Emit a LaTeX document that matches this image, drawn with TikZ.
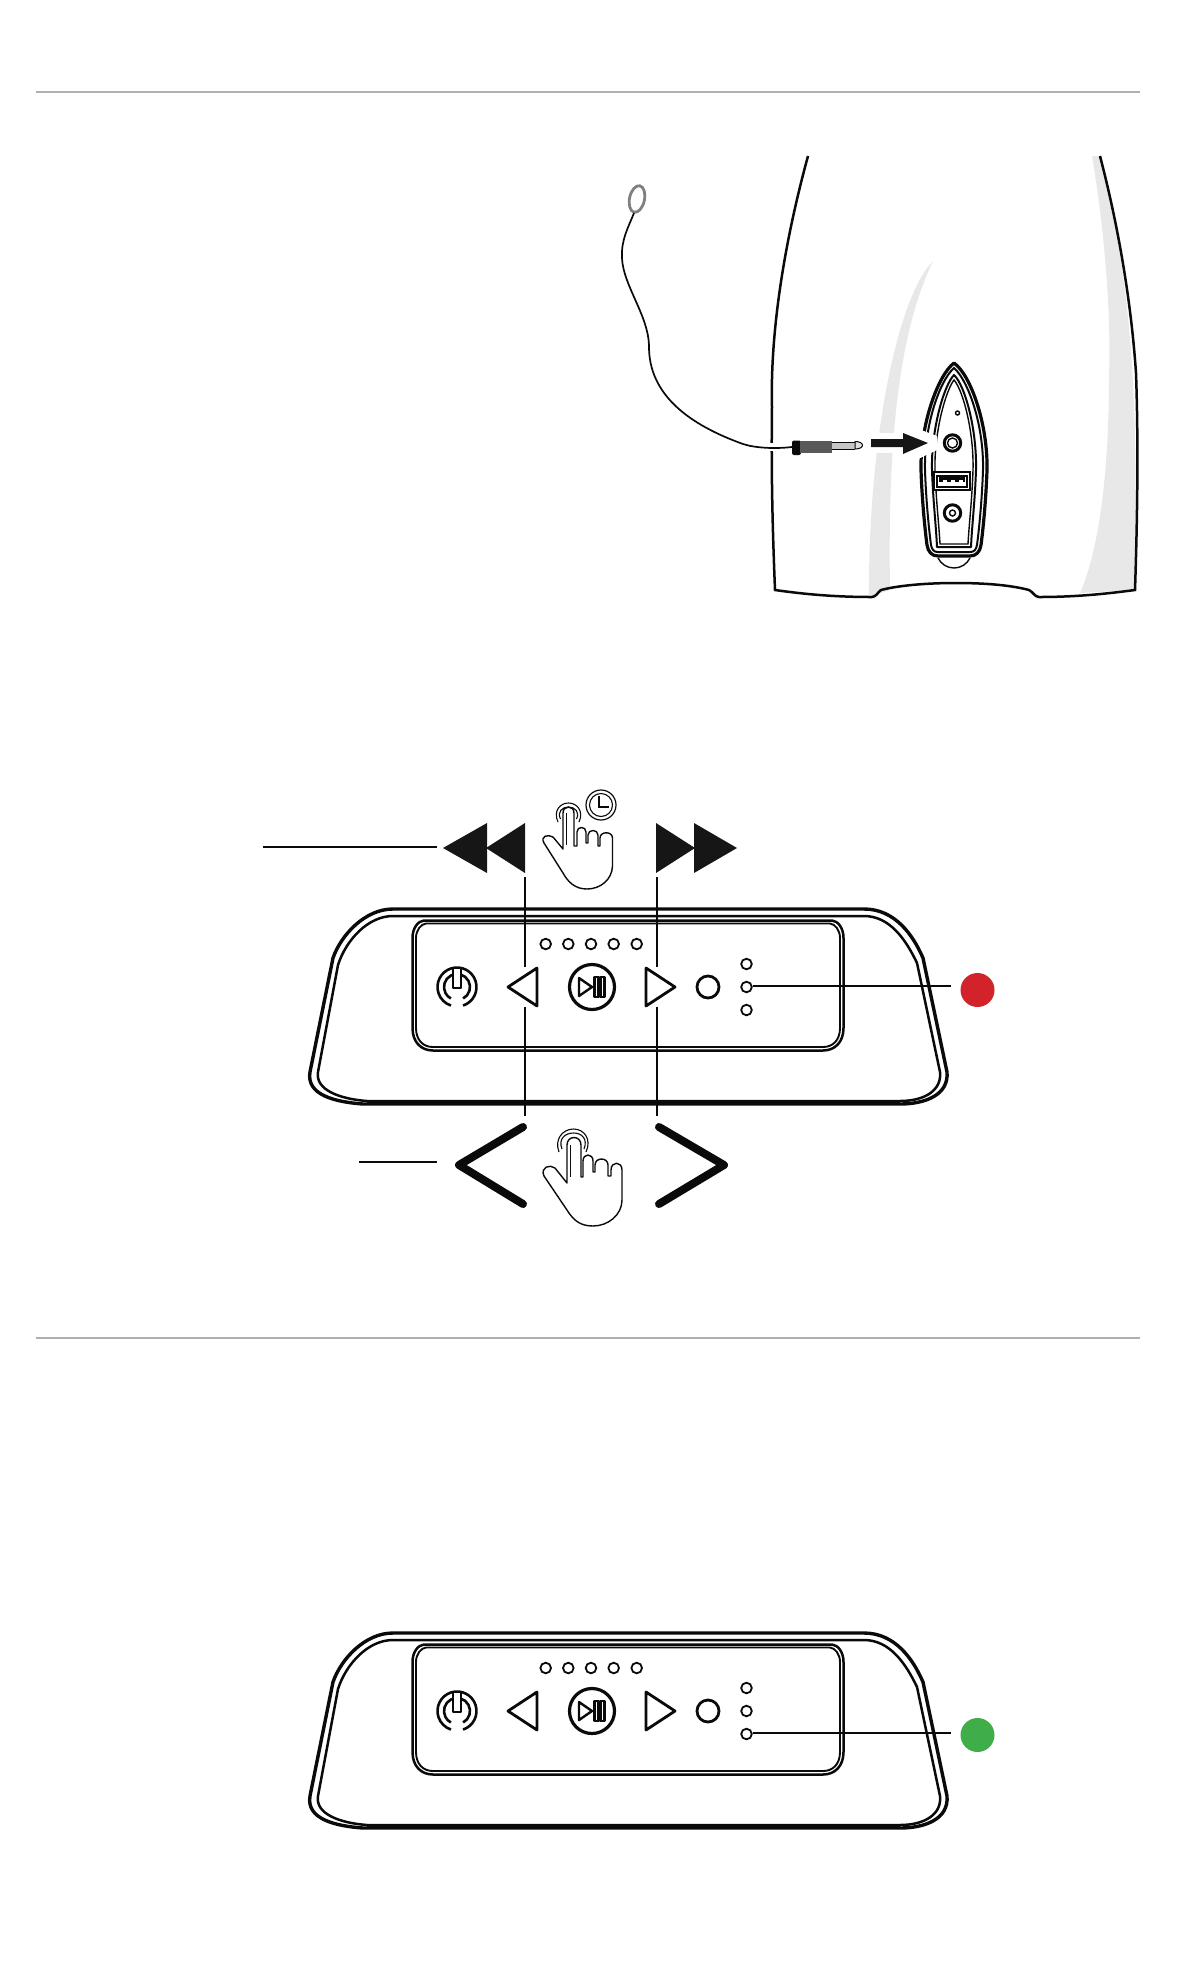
\documentclass[tikz,border=0pt]{standalone}
\usetikzlibrary{positioning}

\definecolor{rulegray}{HTML}{B0B0B0}
\definecolor{stripgray}{HTML}{E8E8E8}
\definecolor{ledred}{HTML}{D2232A}
\definecolor{ledgreen}{HTML}{3FAE49}
\definecolor{inkblack}{HTML}{0A0A0A}

\tikzset{
  sectionrule/.style={draw=rulegray, line width=1.6pt},
  outline/.style={draw=inkblack, line width=2.5pt},
  thinline/.style={draw=inkblack, line width=1.4pt},
  leader/.style={draw=inkblack, line width=2pt},
  led/.style={draw=inkblack, line width=1.8pt, fill=white},
  button/.style={draw=inkblack, line width=2.8pt, line join=round},
  solidmark/.style={fill=inkblack!90!gray},
  chevron/.style={draw=inkblack, line width=8pt, line cap=round, line join=round},
  statusdot/.style={circle, minimum size=34pt, inner sep=0pt},
  controlpanel/.pic={
    % Body
    \draw[draw=inkblack, line width=3.4pt, line join=round] (393,909) -- (864,909)
      .. controls (895,909) and (913,935) .. (923,958)
      -- (947,1072) .. controls (949,1095) and (925,1104) .. (900,1104)
      -- (363,1104) .. controls (335,1102) and (306,1095) .. (310,1072)
      -- (333,958) .. controls (341,935) and (365,909) .. (393,909) -- cycle;
    \draw[outline] (393,916) -- (864,916)
      .. controls (890,916) and (906,940) .. (917,963)
      -- (940,1072) .. controls (942,1090) and (925,1101) .. (900,1101)
      -- (367,1101) .. controls (340,1099) and (315,1090) .. (318,1072)
      -- (338,965) .. controls (346,940) and (368,916) .. (393,916) -- cycle;
    \draw[draw=inkblack, line width=4pt] (367,1103) -- (900,1103);
    % Plate
    \draw[outline] (424,920.5) -- (832,920.5)
      .. controls (838,921) and (843.5,928) .. (843.5,938) -- (843.5,1028)
      .. controls (843.5,1042) and (835,1050.5) .. (823,1050.5) -- (433,1050.5)
      .. controls (421,1050.5) and (412.5,1042) .. (412.5,1028) -- (412.5,938)
      .. controls (412.5,928) and (418,921) .. (424,920.5) -- cycle;
    \draw[outline, line width=1.9pt] (426,923.5) -- (830,923.5)
      .. controls (835,924) and (840,930) .. (840,938) -- (840,1028)
      .. controls (840,1040) and (833,1047) .. (823,1047) -- (433,1047)
      .. controls (423,1047) and (416,1040) .. (416,1028) -- (416,938)
      .. controls (416,930) and (421,924) .. (426,923.5) -- cycle;
    % Power
    \draw[button, line width=2.6pt] (457,987) ++(72:19.5) arc (72:-252:19.5);
    \draw[button, line width=2.6pt] (457,987) ++(62:13) arc (62:-242:13);
    \draw[button, line width=2.8pt, fill=white] (453,968) rectangle (461,988);
    % Transport
    \draw[button] (508,987) -- (537,968) -- (537,1006) -- cycle;
    \draw[button] (646,968) -- (675,987) -- (646,1006) -- cycle;
    \draw[button, line width=3.2pt] (592,987) circle (22.5);
    \draw[button, line width=2.4pt] (579,978) -- (592,987) -- (579,996) -- cycle;
    \draw[button, line width=2.2pt] (594.5,977) rectangle (598.5,997);
    \draw[button, line width=2.2pt] (600.5,977) rectangle (604.5,997);
    \draw[button] (708,987) circle (11);
    % Lights
    \foreach \ledx in {545.7,568.3,591,613.7,636.7}
      \draw[led] (\ledx,944) circle (5.3);
    \foreach \ledy in {964,987,1010}
      \draw[led] (746.5,\ledy) circle (5.3);
  }
}

\begin{document}
\begin{tikzpicture}[x=1pt, y=-1pt]

  \useasboundingbox (0,0) rectangle (1176,1968);

  % Section rules
  \coordinate (RuleAL) at (36,92);
  \coordinate (RuleAR) at (1140,92);
  \coordinate (RuleBL) at (36,1338);
  \coordinate (RuleBR) at (1140,1338);
  \draw[sectionrule] (RuleAL) -- (RuleAR);
  \draw[sectionrule] (RuleBL) -- (RuleBR);

  % Shading on the speaker
  \fill[stripgray] (1092,156) .. controls (1106,240) and (1111,320) .. (1109,376)
    .. controls (1109,450) and (1103,540) .. (1080,593) -- (1135,590)
    .. controls (1138,400) and (1133,290) .. (1100,156) -- cycle;
  \fill[stripgray] (933,261) .. controls (895,300) and (868,450) .. (869,597)
    -- (890,590) .. controls (888,460) and (895,340) .. (933,261) -- cycle;
  \fill[white] (860,433) rectangle (905,453);

  % Speaker outline
  \draw[outline] (808,156) .. controls (785,240) and (770,330) .. (772,407)
    .. controls (771,480) and (773,540) .. (775,590)
    .. controls (810,595) and (840,597) .. (872,597)
    .. controls (876,597) and (878,592) .. (881,590)
    .. controls (900,585) and (930,583) .. (955,583)
    .. controls (985,583) and (1010,585) .. (1029,590)
    .. controls (1033,592) and (1035,597) .. (1039,597)
    .. controls (1075,597) and (1105,594) .. (1135,590)
    .. controls (1138,500) and (1138,430) .. (1136,373)
    .. controls (1131,300) and (1118,225) .. (1100,156);

  % Rear port
  \fill[white] (954,363) .. controls (971,375) and (988,425) .. (987,470)
    .. controls (986,500) and (983,530) .. (981,545)
    .. controls (980,552) and (976,556) .. (970,556) -- (938,556)
    .. controls (932,556) and (928,552) .. (927,545)
    .. controls (925,530) and (922,500) .. (921,470)
    .. controls (920,425) and (938,375) .. (954,363) -- cycle;
  \draw[thinline] (938,558) .. controls (941,564) and (947,568) .. (954,568)
    .. controls (961,568) and (967,564) .. (970,558);
  \draw[draw=inkblack, line width=3.2pt, line join=round] (954,363)
    .. controls (971,375) and (988,425) .. (987,470)
    .. controls (986,500) and (983,530) .. (981,545)
    .. controls (980,552) and (976,556) .. (970,556) -- (938,556)
    .. controls (932,556) and (928,552) .. (927,545)
    .. controls (925,530) and (922,500) .. (921,470)
    .. controls (920,425) and (938,375) .. (954,363) -- cycle;
  \draw[thinline, line width=2pt] (954,368)
    .. controls (968,380) and (984,425) .. (983,470)
    .. controls (982,500) and (979,530) .. (977,545)
    .. controls (976,550) and (974,552) .. (970,552) -- (938,552)
    .. controls (934,552) and (932,550) .. (931,545)
    .. controls (929,530) and (926,500) .. (925,470)
    .. controls (924,425) and (940,380) .. (954,368) -- cycle;
  \draw[outline, line width=2pt, line join=round] (954,375)
    .. controls (965,385) and (977,430) .. (976,470)
    .. controls (975,500) and (972,525) .. (971,547) -- (937,547)
    .. controls (936,525) and (933,500) .. (932,470)
    .. controls (931,430) and (944,385) .. (954,375) -- cycle;
  \draw[thinline] (954,380)
    .. controls (963,390) and (974,432) .. (973,470)
    .. controls (972,500) and (969,525) .. (968,544) -- (940,544)
    .. controls (939,525) and (936,500) .. (935,470)
    .. controls (934,432) and (946,390) .. (954,380) -- cycle;
  \fill[white] (916,428) -- (937,436) -- (937,450) -- (916,460) -- cycle;
  \draw[thinline] (957.5,413) circle (2);
  \draw[outline, line width=3pt] (952.5,443) circle (8.2);
  \draw[thinline] (952.5,443) circle (5);
  \draw[outline, line width=3pt] (952.5,513) circle (8.2);
  \draw[thinline] (952.5,513) circle (3);
  % USB socket
  \draw[thinline, fill=white] (934,472) rectangle (970,490);
  \draw[outline, line width=1.8pt] (937,476) -- (967,476) -- (967,487) -- (937,487) -- cycle;
  \fill[inkblack] (939,476) rectangle (965,482);
  \foreach \toothx in {943,951,959}
    \fill[white] (\toothx,480) rectangle ++(4,2);

  % Cable
  \coordinate (CableEnd) at (634,213);
  \coordinate (PlugEnd) at (792,447);
  \fill[white] (768,443) rectangle (778,451);
  \draw[draw=gray, line width=2.8pt, rotate around={-12:(637,199)}] (637,199) ellipse (7.5 and 13.5);
  \draw[thinline, line width=1.7pt] (CableEnd) .. controls (628,228) and (621,240) .. (622,258)
    .. controls (623,285) and (648,315) .. (649,345)
    .. controls (648,395) and (690,425) .. (743,444)
    .. controls (755,448) and (775,449) .. (PlugEnd);

  % Plug
  \fill[inkblack, rounded corners=2pt] (792,440.5) rectangle (801,455);
  \fill[gray!70!black] (800,440.5) rectangle (832,453);
  \fill[gray!45] (832,442) rectangle (855,449);
  \draw[thinline, line width=1pt] (832,442) -- (855,442);
  \draw[thinline, line width=1pt] (832,449) -- (855,449);
  \draw[thinline, line width=1pt, fill=gray!25] (855,441.5) .. controls (865,441.5) and (865,449) .. (855,449) -- cycle;

  % Insert arrow
  \fill[inkblack!90!gray] (871,439) -- (903,439) -- (903,433) -- (928,443) -- (903,454) -- (903,447) -- (871,447) -- cycle;

  % Control panels
  \pic at (0,0) {controlpanel};
  \pic at (0,724) {controlpanel};

  % Skip marks
  \fill[solidmark] (443,848) -- (487,823) -- (487,873) -- cycle;
  \fill[solidmark] (486,848) -- (525,823) -- (525,873) -- cycle;
  \fill[solidmark] (656,823) -- (695,848) -- (656,873) -- cycle;
  \fill[solidmark] (694,823) -- (737,848) -- (694,873) -- cycle;

  % Step marks
  \draw[chevron] (523,1127) -- (459,1165) -- (523,1204);
  \draw[chevron] (659,1127) -- (724,1165) -- (659,1204);

  % Leaders
  \coordinate (HoldLeft) at (263,847);
  \coordinate (HoldRight) at (437,847);
  \coordinate (TapLeft) at (359,1162);
  \coordinate (TapRight) at (437,1162);
  \draw[leader] (HoldLeft) -- (HoldRight);
  \draw[leader] (TapLeft) -- (TapRight);

  \coordinate (BackTop) at (524.5,877);
  \coordinate (BackMid) at (524.5,967);
  \coordinate (BackLow) at (524.5,1007);
  \coordinate (BackEnd) at (524.5,1116);
  \coordinate (NextTop) at (657,877);
  \coordinate (NextMid) at (657,967);
  \coordinate (NextLow) at (657,1007);
  \coordinate (NextEnd) at (657,1116);
  \draw[leader] (BackTop) -- (BackMid);
  \draw[leader] (BackLow) -- (BackEnd);
  \draw[leader] (NextTop) -- (NextMid);
  \draw[leader] (NextLow) -- (NextEnd);

  % Status lights
  \node (RedDot) [statusdot, fill=ledred] at (977.5,990) {};
  \node (GreenDot) [statusdot, fill=ledgreen] at (977.5,1735) {};
  \coordinate (RedFrom) at (752.5,986);
  \coordinate (RedTo) at (951,986);
  \coordinate (GreenFrom) at (752.5,1733);
  \coordinate (GreenTo) at (951,1733);
  \draw[leader] (RedFrom) -- (RedTo);
  \draw[leader] (GreenFrom) -- (GreenTo);

  % Upper hand
  \draw[thinline, line join=round] (563,849)
    -- (563,813) .. controls (563,805) and (574,805) .. (574,813) -- (574,846) -- (577,846)
    -- (577,832) .. controls (577,826) and (586,826) .. (586,832) -- (586,843) -- (588,843)
    -- (588,835) .. controls (588,829) and (598,829) .. (598,835) -- (598,846) -- (600,846)
    -- (600,838) .. controls (600,831) and (612.5,831) .. (612.5,838) -- (612.5,866)
    .. controls (612,880) and (600,889) .. (587,889)
    .. controls (575,889) and (568,882) .. (563,873)
    -- (544,843) .. controls (540,836) and (548,834) .. (553,837) -- cycle;
  \draw[thinline, line width=0.8pt] (566,813) -- (566,845);
  \draw[thinline, line width=1.1pt] (558,822) .. controls (553,811) and (560,803) .. (568.5,803)
    .. controls (577,803) and (584,811) .. (579,822);
  \draw[thinline, line width=1.1pt] (560.5,819) .. controls (557,812) and (562,807) .. (568.5,807)
    .. controls (575,807) and (580,812) .. (576.5,819);

  % Clock
  \coordinate (ClockC) at (601,805);
  \draw[thinline, line width=1.2pt] (ClockC) circle (15);
  \draw[thinline, line width=1.1pt] (ClockC) circle (11.5);
  \draw[thinline] (599,796) -- (599,807) -- (609,807);

  % Lower hand
  \draw[thinline, line join=round] (567,1183)
    -- (567,1145) .. controls (567,1135) and (581,1135) .. (581,1145) -- (581,1177) -- (583,1177)
    -- (583,1161) .. controls (583,1153) and (593,1153) .. (593,1161) -- (593,1172) -- (595,1172)
    -- (595,1165) .. controls (595,1157) and (608,1157) .. (608,1165) -- (608,1176) -- (611,1176)
    -- (611,1170) .. controls (611,1161) and (622,1161) .. (622,1170) -- (622,1200)
    .. controls (622,1215) and (608,1226) .. (593,1226)
    .. controls (580,1226) and (574,1220) .. (569,1213)
    -- (544,1176) .. controls (540,1167) and (550,1164) .. (555,1168) -- cycle;
  \draw[thinline, line width=0.8pt] (570,1145) -- (570,1177);
  \draw[thinline, line width=1.1pt] (559,1152) .. controls (554,1139) and (563,1129) .. (573.5,1129)
    .. controls (584,1129) and (592,1139) .. (586,1152);
  \draw[thinline, line width=1.1pt] (562,1149) .. controls (558,1139) and (565,1133) .. (573.5,1133)
    .. controls (582,1133) and (588,1139) .. (584,1149);

\end{tikzpicture}
\end{document}
